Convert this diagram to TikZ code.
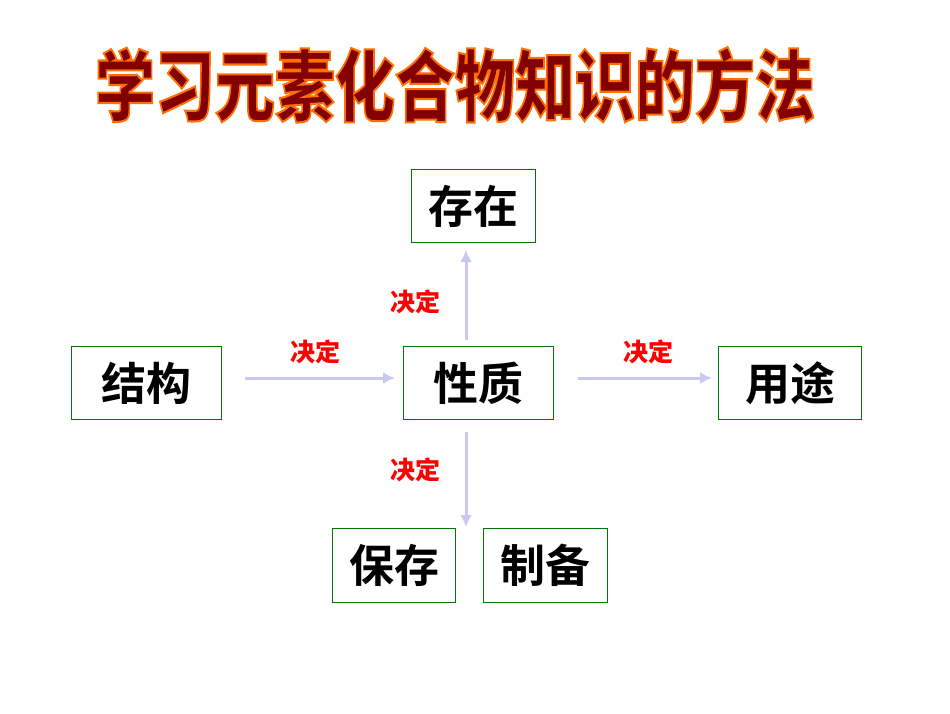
\documentclass[tikz,border=0pt]{standalone}
\usepackage{fontspec}
\newfontfamily\cjk{Noto Sans CJK SC Bold}
\newfontfamily\cjkb{Noto Sans CJK SC Black}
\newcommand\outlined[1]{\special{pdf:literal direct q 2 Tr 1.6 w 1 0.43 0 RG}#1\special{pdf:literal direct Q}}
\begin{document}
\begin{tikzpicture}[x=1pt,y=-1pt,
 box/.style={draw=green!45!black,line width=0.8pt,inner sep=0,font=\cjk\fontsize{45}{48}\selectfont},
 arr/.style={draw={rgb,255:red,200;green,200;blue,240},line width=3pt,-{Latex[length=12pt,width=12pt]}},
 lab/.style={font=\cjkb\fontsize{25}{27}\selectfont,text=red}]
\usetikzlibrary{arrows.meta}
\useasboundingbox (0,0) rectangle (950,713);
\definecolor{tdark}{RGB}{130,0,0}
\node[font=\cjkb\fontsize{60}{66}\selectfont,text=tdark,yscale=1.3] (title) at (455,85) {\outlined{学习元素化合物知识的方法}};
\node[box,minimum width=124,minimum height=73] (cz) at (473,206) {存在};
\node[box,minimum width=150,minimum height=73] (jg) at (146,383) {结构};
\node[box,minimum width=150,minimum height=73] (xz) at (478,383) {性质};
\node[box,minimum width=143,minimum height=73] (yt) at (790,383) {用途};
\node[box,minimum width=123,minimum height=74] (bc) at (394,565) {保存};
\node[box,minimum width=124,minimum height=74] (zb) at (545,565) {制备};
\coordinate (a1) at (245,378); \coordinate (a2) at (395,378);
\coordinate (b1) at (578,378); \coordinate (b2) at (712,378);
\coordinate (c1) at (466,340); \coordinate (c2) at (466,250);
\coordinate (d1) at (466,432); \coordinate (d2) at (466,527);
\draw[arr] (a1) -- (a2);
\draw[arr] (b1) -- (b2);
\draw[arr] (c1) -- (c2);
\draw[arr] (d1) -- (d2);
\node[lab] (l1) at (315,352) {决定};
\node[lab] (l2) at (648,352) {决定};
\node[lab] (l3) at (415,302) {决定};
\node[lab] (l4) at (415,470) {决定};
\end{tikzpicture}
\end{document}
